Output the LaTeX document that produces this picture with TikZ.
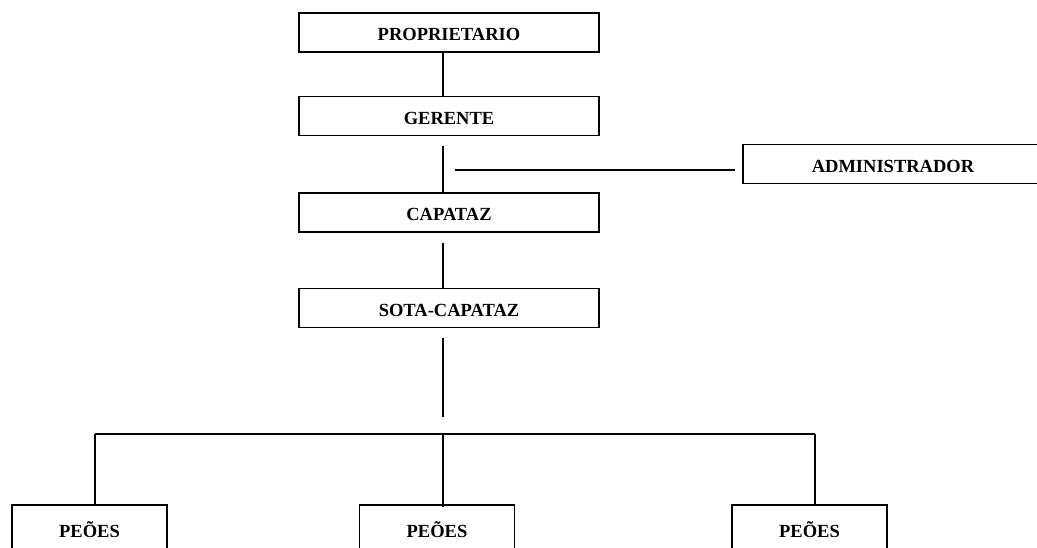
\documentclass[tikz,border=0pt]{standalone}
\usepackage{fontspec}
\setmainfont{Liberation Serif}
\usetikzlibrary{calc}
\begin{document}
\begin{tikzpicture}[x=1pt,y=-1pt,
  line width=1.6pt,
  font=\fontsize{18.5}{20}\selectfont\bfseries,
  box/.style={draw,rectangle,inner sep=0pt,minimum width=300pt,text height=28pt,text depth=11pt},
  pbox/.style={draw,rectangle,inner sep=0pt,minimum width=155pt,text height=32pt,text depth=28pt}]
\useasboundingbox (0,0) rectangle (1037,548);
\clip (0,0) rectangle (1037,548);
\node[box] (P) at (449,32.5) {PROPRIETARIO};
\node[box] (G) at (449,116) {GERENTE};
\node[box] (C) at (449,212.5) {CAPATAZ};
\node[box] (S) at (449,308) {SOTA-CAPATAZ};
\node[box] (A) at (893,164) {ADMINISTRADOR};
\node[pbox] (L) at (89.5,535) {PEÕES};
\node[pbox] (M) at (437,535) {PEÕES};
\node[pbox] (R) at (809.5,535) {PEÕES};
\coordinate (spine) at (443,0);
\coordinate (adm) at (455,170);
\coordinate (send) at (443,417);
\coordinate (busL) at (95,434);
\coordinate (busM) at (443,434);
\coordinate (busR) at (815,434);
\draw (P.south -| spine) -- (G.north -| spine);
\draw ($(G.south -| spine)+(0,10)$) -- (C.north -| spine);
\draw (adm) -- ($(adm -| A.west)+(-7,0)$);
\draw ($(C.south -| spine)+(0,10)$) -- (S.north -| spine);
\draw ($(S.south -| spine)+(0,10)$) -- (send);
\draw (busL) -- (busR);
\draw (busL) -- (busL |- L.north);
\draw (busM) -- ($(busM |- M.north)+(0,3)$);
\draw (busR) -- (busR |- R.north);
\end{tikzpicture}
\end{document}
